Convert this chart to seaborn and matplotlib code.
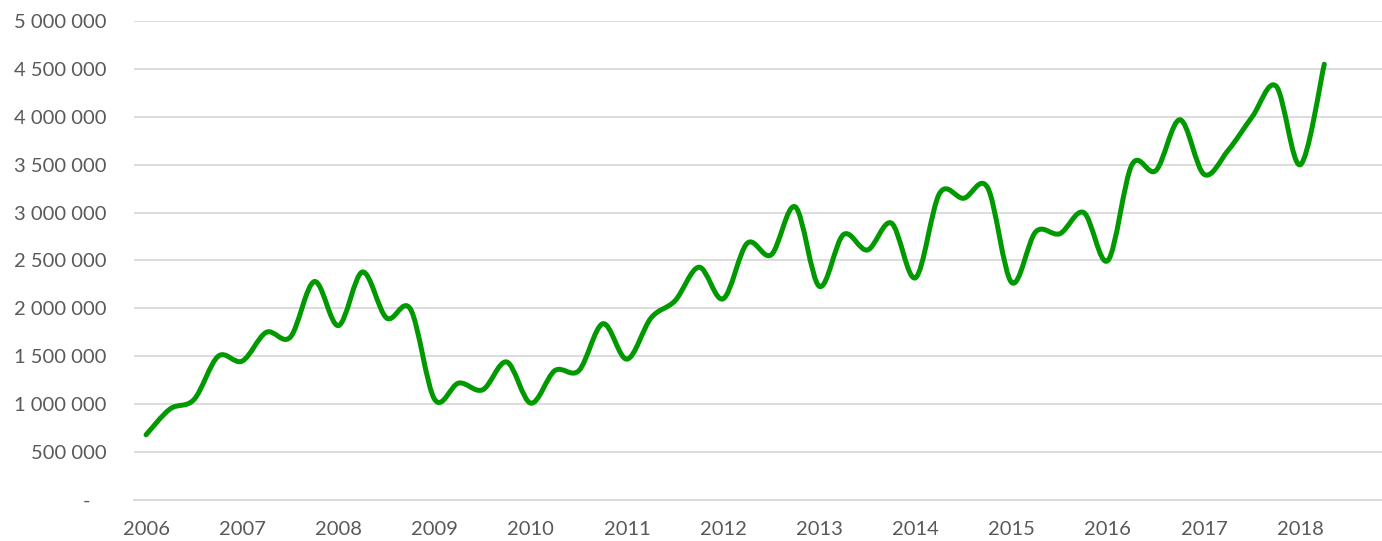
import numpy as np
import pandas as pd
import matplotlib.pyplot as plt
import seaborn as sns
from matplotlib.path import Path
from matplotlib.patches import PathPatch
from matplotlib.ticker import FuncFormatter

# квартальные значения, 2006Q1 - 2018Q2
values = [
    680000, 950000, 1050000, 1500000,
    1450000, 1750000, 1700000, 2280000,
    1820000, 2380000, 1900000, 1990000,
    1050000, 1220000, 1150000, 1440000,
    1010000, 1350000, 1350000, 1840000,
    1470000, 1900000, 2080000, 2430000,
    2100000, 2680000, 2560000, 3060000,
    2230000, 2770000, 2610000, 2890000,
    2320000, 3200000, 3150000, 3260000,
    2270000, 2800000, 2780000, 3000000,
    2500000, 3500000, 3440000, 3970000,
    3400000, 3650000, 4000000, 4320000,
    3500000, 4550000,
]
years = list(range(2006, 2019))
y_ticks = list(range(0, 5000001, 500000))

quarters = pd.period_range('2006Q1', periods=len(values), freq='Q')
df = pd.DataFrame({
    'x': quarters.year + (quarters.quarter - 1) / 4,
    'value': values,
})

green = '#009900'
grey_text = '#595959'
grid_col = '#d9d9d9'

sns.set_style('white')
plt.rcParams['font.family'] = ['Lato', 'DejaVu Sans']

fig = plt.figure(figsize=(13.82, 5.41), dpi=100)
ax = fig.add_axes([0.097, 0.076, 0.903, 0.885])

# линия через seaborn, потом сглаживаем её как в Excel
sns.lineplot(data=df, x='x', y='value', color=green, linewidth=0, ax=ax)

# кривые Безье по точкам (Catmull-Rom)
pts = df[['x', 'value']].to_numpy(dtype=float)
verts = [pts[0]]
codes = [Path.MOVETO]
n = len(pts)
for i in range(n - 1):
    p_prev = pts[max(i - 1, 0)]
    p0 = pts[i]
    p1 = pts[i + 1]
    p_next = pts[min(i + 2, n - 1)]
    c1 = p0 + (p1 - p_prev) / 6
    c2 = p1 - (p_next - p0) / 6
    verts += [c1, c2, p1]
    codes += [Path.CURVE4] * 3
patch = PathPatch(Path(verts, codes), facecolor='none', edgecolor=green,
                  linewidth=3.6, capstyle='round', joinstyle='round', zorder=3)
ax.add_patch(patch)

ax.set_xlim(2006 - 0.125, 2006 + 51.4 / 4)
ax.set_ylim(0, 5000000)
ax.set_xticks(years)
ax.set_yticks(y_ticks)

def fmt(v, pos):
    if v == 0:
        return '-   '
    return f'{int(v):,}'.replace(',', ' ')

ax.yaxis.set_major_formatter(FuncFormatter(fmt))
ax.grid(axis='y', color=grid_col, linewidth=1.3)
ax.grid(axis='x', visible=False)
ax.tick_params(axis='both', length=0, labelsize=14.5, colors=grey_text)
ax.tick_params(axis='y', pad=20)
ax.tick_params(axis='x', pad=15)
for s in ['top', 'right', 'left']:
    ax.spines[s].set_visible(False)
ax.spines['bottom'].set_color(grid_col)
ax.spines['bottom'].set_linewidth(1.3)
ax.set_xlabel('')
ax.set_ylabel('')

fig.savefig('out.png', dpi=100)
